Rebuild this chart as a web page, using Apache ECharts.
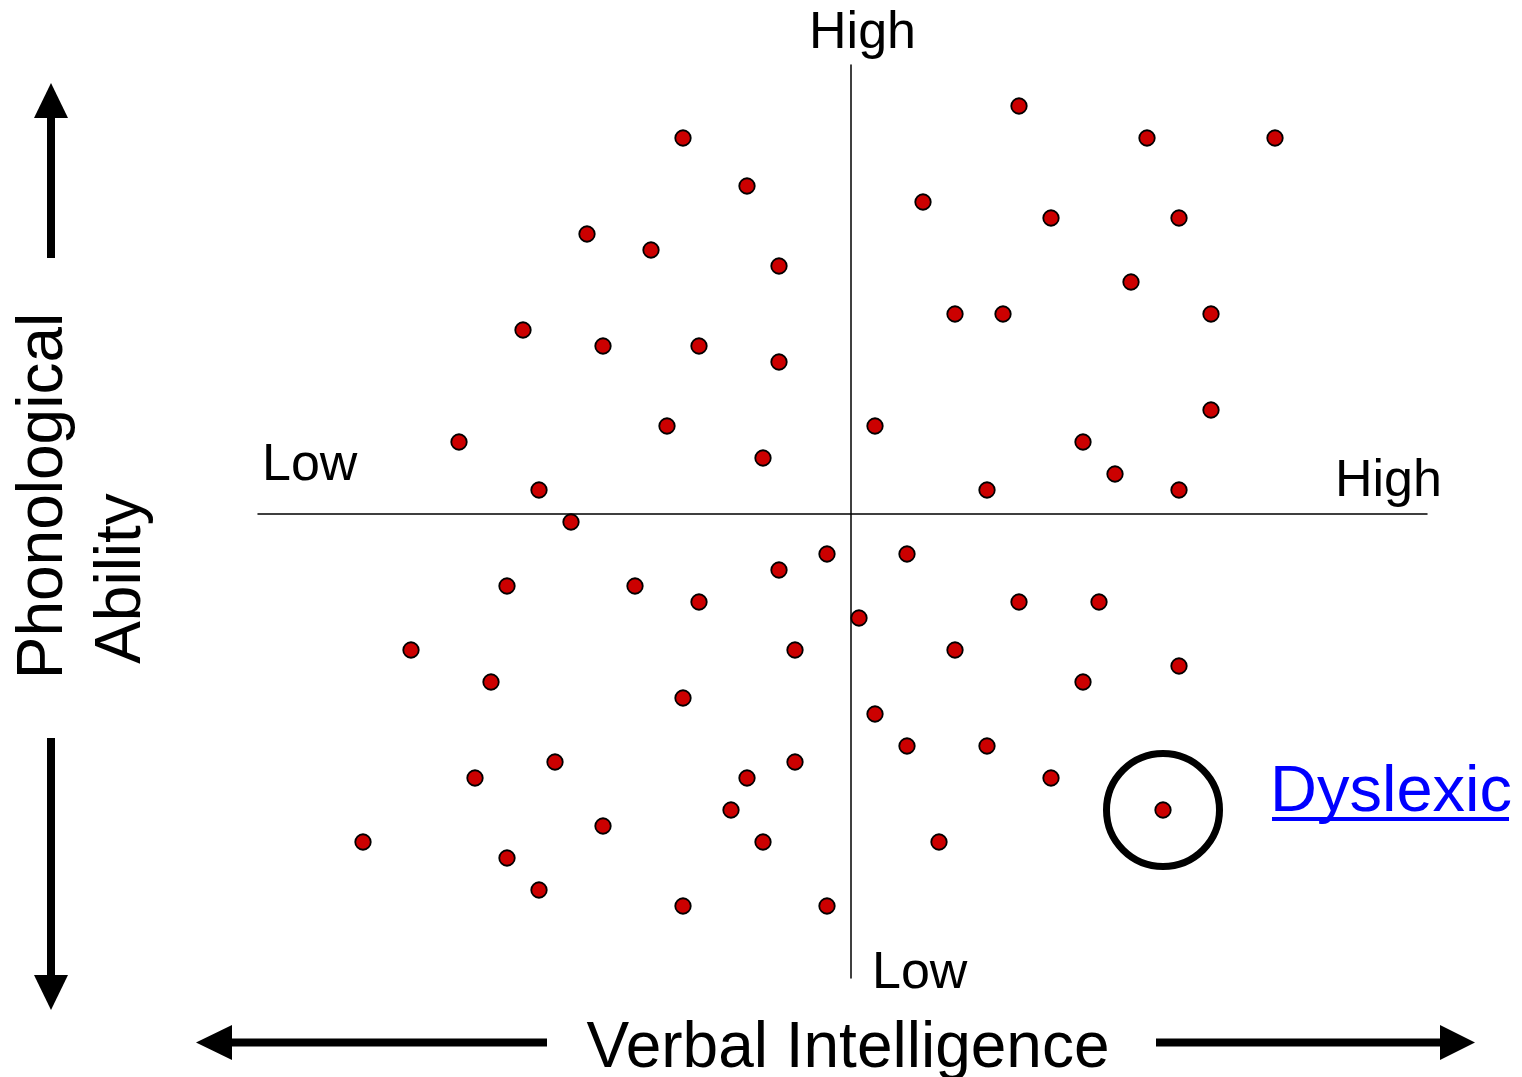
<!DOCTYPE html>
<html>
<head>
<meta charset="utf-8">
<style>
  html, body { margin: 0; padding: 0; background: #fff; }
  #chart { width: 1522px; height: 1077px; }
</style>
<script src="https://cdn.jsdelivr.net/npm/echarts@6/dist/echarts.min.js"></script>
</head>
<body>
<div id="chart"></div>
<script>
// Verbal intelligence (x) and phonological ability (y), arbitrary units centred on 0
const readers = [
  [-21, 47], [-13, 41], [-33, 35], [-25, 33], [-9, 31], [-41, 23], [-31, 21], [-19, 21],
  [-9, 19], [-49, 9], [-23, 11], [-11, 7], [-39, 3], [-35, -1], [-43, -9], [-27, -9],
  [-19, -11], [-9, -7], [-3, -5], [-55, -17], [-45, -21], [-21, -23], [-7, -17], [-47, -33],
  [-37, -31], [-13, -33], [-7, -31], [-15, -37], [-31, -39], [-11, -41], [-61, -41], [-43, -43],
  [-39, -47], [-21, -49], [-3, -49],
  [21, 51], [37, 47], [53, 47], [9, 39], [25, 37], [41, 37], [35, 29], [13, 25],
  [19, 25], [45, 25], [45, 13], [3, 11], [29, 9], [33, 5], [17, 3], [41, 3],
  [7, -5], [1, -13], [21, -11], [31, -11], [13, -17], [41, -19], [29, -21], [3, -25],
  [7, -29], [17, -29], [25, -33], [11, -41]
];
const dyslexic = [[39, -37]];

const xRange = [-74.125, 72];
const yRange = [-58, 56.125];

const FONT = '"Liberation Sans", Arial, Helvetica, sans-serif';

const chart = echarts.init(document.getElementById('chart'));

function txt(text, x, y, size, opts) {
  return Object.assign({
    type: 'text',
    x: x, y: y,
    style: Object.assign({
      text: text,
      font: size + 'px ' + FONT,
      fill: '#000',
      textAlign: 'left',
      textVerticalAlign: 'middle'
    }, (opts && opts.style) || {})
  }, (opts && opts.el) || {});
}

const option = {
  animation: false,
  backgroundColor: '#fff',
  grid: { left: 258, right: 95, top: 65, bottom: 99, containLabel: false },
  xAxis: {
    type: 'value', min: xRange[0], max: xRange[1],
    axisLine: { show: true, onZero: true, lineStyle: { color: '#000', width: 1.5 } },
    axisTick: { show: false }, axisLabel: { show: false }, splitLine: { show: false }
  },
  yAxis: {
    type: 'value', min: yRange[0], max: yRange[1],
    axisLine: { show: true, onZero: true, lineStyle: { color: '#000', width: 1.5 } },
    axisTick: { show: false }, axisLabel: { show: false }, splitLine: { show: false }
  },
  series: [
    {
      type: 'scatter',
      data: dyslexic,
      symbol: 'circle',
      symbolSize: 113,
      itemStyle: { color: 'rgba(0,0,0,0)', borderColor: '#000', borderWidth: 7, opacity: 1 },
      silent: true, z: 2
    },
    {
      type: 'scatter',
      data: readers.concat(dyslexic),
      symbol: 'circle',
      symbolSize: 15.5,
      itemStyle: { color: '#CC0000', borderColor: '#000', borderWidth: 1.8, opacity: 1 },
      z: 3
    }
  ],
  graphic: [
    txt('High', 862.5, 34, 52, { style: { textAlign: 'center' } }),
    txt('Low', 262, 466, 52),
    txt('High', 1335, 482, 52),
    txt('Low', 872, 974, 52),
    txt('Dyslexic', 1270, 793, 65, { style: { fill: '#0000FF' } }),
    { type: 'rect', shape: { x: 1272, y: 817, width: 237, height: 4 }, style: { fill: '#0000FF' } },
    txt('Verbal Intelligence', 848, 1049, 64, { style: { textAlign: 'center' } }),
    txt('Phonological', 0, 0, 64, { style: { textAlign: 'center' }, el: { x: 44, y: 496, rotation: Math.PI / 2 } }),
    txt('Ability', 0, 0, 64, { style: { textAlign: 'center' }, el: { x: 122, y: 578.5, rotation: Math.PI / 2 } }),
    // up arrow
    { type: 'rect', shape: { x: 47, y: 116, width: 8, height: 142 }, style: { fill: '#000' } },
    { type: 'polygon', shape: { points: [[51, 83], [34, 118], [68, 118]] }, style: { fill: '#000' } },
    // down arrow
    { type: 'rect', shape: { x: 47, y: 738, width: 8, height: 239 }, style: { fill: '#000' } },
    { type: 'polygon', shape: { points: [[51, 1010], [34, 975], [68, 975]] }, style: { fill: '#000' } },
    // left arrow
    { type: 'rect', shape: { x: 230, y: 1038.5, width: 317, height: 8 }, style: { fill: '#000' } },
    { type: 'polygon', shape: { points: [[196, 1042.5], [232, 1025], [232, 1060]] }, style: { fill: '#000' } },
    // right arrow
    { type: 'rect', shape: { x: 1156, y: 1038.5, width: 286, height: 8 }, style: { fill: '#000' } },
    { type: 'polygon', shape: { points: [[1475, 1042.5], [1440, 1025], [1440, 1060]] }, style: { fill: '#000' } }
  ]
};

chart.setOption(option);
</script>
</body>
</html>
